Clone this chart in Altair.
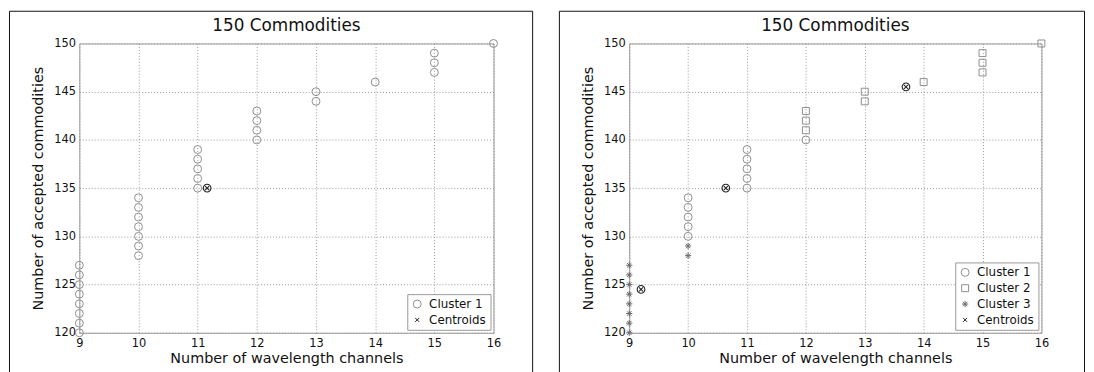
import altair as alt
import pandas as pd

FONT = "DejaVu Sans"
TITLE = "150 Commodities"
X_TITLE = "Number of wavelength channels"
Y_TITLE = "Number of accepted commodities"

# data points (same in both panels)
channels = [9, 9, 9, 9, 9, 9, 9, 9,
            10, 10, 10, 10, 10, 10, 10,
            11, 11, 11, 11, 11,
            12, 12, 12, 12,
            13, 13,
            14,
            15, 15, 15,
            16]
accepted = [120, 121, 122, 123, 124, 125, 126, 127,
            128, 129, 130, 131, 132, 133, 134,
            135, 136, 137, 138, 139,
            140, 141, 142, 143,
            144, 145,
            146,
            147, 148, 149,
            150]

# cluster membership
left_cluster = ["Cluster 1"] * 31
right_cluster = (["Cluster 3"] * 10) + (["Cluster 1"] * 11) + (["Cluster 2"] * 10)

# centroids
left_centroid_x = [11.16]
left_centroid_y = [135.0]
right_centroid_x = [10.64, 13.7, 9.2]
right_centroid_y = [135.0, 145.5, 124.5]

x_ticks = [9, 10, 11, 12, 13, 14, 15, 16]
y_ticks = [120, 125, 130, 135, 140, 145, 150]

ASTERISK = "M-1,0L1,0M0,-1L0,1M-0.7,-0.7L0.7,0.7M-0.7,0.7L0.7,-0.7"
XMARK = "M-1,-1L1,1M-1,1L1,-1"
STYLE = {
    "Cluster 1": ("circle", "#8f8f8f", 64),
    "Cluster 2": ("square", "#8f8f8f", 49),
    "Cluster 3": (ASTERISK, "#6a6a6a", 40),
    "Centroids": (XMARK, "#222222", 16),
}


def panel(groups, cx, cy, width, height, rect_x2):
    pts = pd.DataFrame({"channels": channels, "accepted": accepted, "group": groups})
    cent = pd.DataFrame({"channels": cx, "accepted": cy, "group": ["Centroids"] * len(cx)})
    domain = sorted(set(groups)) + ["Centroids"]
    shape_s = alt.Scale(domain=domain, range=[STYLE[g][0] for g in domain])
    color_s = alt.Scale(domain=domain, range=[STYLE[g][1] for g in domain])
    size_s = alt.Scale(type="ordinal", domain=domain, range=[STYLE[g][2] for g in domain])

    x = alt.X("channels:Q", scale=alt.Scale(domain=[9, 16], nice=False, zero=False),
              axis=alt.Axis(values=x_ticks, title=X_TITLE, format="d"))
    y = alt.Y("accepted:Q", scale=alt.Scale(domain=[120, 150], nice=False, zero=False),
              axis=alt.Axis(values=y_ticks, title=Y_TITLE, format="d"))

    one = pd.DataFrame({"title": [TITLE]})
    border = alt.Chart(one).mark_rect(fillOpacity=0, stroke="#111111", strokeWidth=1).encode(
        x=alt.value(-70.5), x2=alt.value(rect_x2), y=alt.value(-32.5), y2=alt.value(height + 60))
    title = alt.Chart(one).mark_text(font=FONT, fontSize=17, align="center", baseline="middle",
                                     color="#111111").encode(
        text="title:N", x=alt.value(width / 2), y=alt.value(-18))

    points = alt.Chart(pts).mark_point(filled=False, strokeWidth=1, opacity=1).encode(
        x=x, y=y,
        shape=alt.Shape("group:N", scale=shape_s, legend=alt.Legend(title=None)),
        color=alt.Color("group:N", scale=color_s, legend=alt.Legend(title=None)),
        size=alt.Size("group:N", scale=size_s, legend=alt.Legend(title=None)),
    )
    cent_circle = alt.Chart(cent).mark_point(shape="circle", filled=False, color="#222222",
                                             size=60, strokeWidth=1.1, opacity=1).encode(x=x, y=y)
    cent_x = alt.Chart(cent).mark_point(filled=False, strokeWidth=1.1, opacity=1).encode(
        x=x, y=y,
        shape=alt.Shape("group:N", scale=shape_s, legend=alt.Legend(title=None)),
        color=alt.Color("group:N", scale=color_s, legend=alt.Legend(title=None)),
        size=alt.Size("group:N", scale=size_s, legend=alt.Legend(title=None)),
    )
    return alt.layer(border, title, points, cent_circle, cent_x).properties(width=width, height=height)


left = panel(left_cluster, left_centroid_x, left_centroid_y, 418, 292, 457.5)
right = panel(right_cluster, right_centroid_x, right_centroid_y, 416, 292, 459.5)

chart = alt.hconcat(left, right, spacing=24).resolve_scale(
    shape="independent", color="independent", size="independent"
).resolve_legend(
    shape="independent", color="independent", size="independent"
).properties(padding=0, background="white").configure_view(
    stroke="#999999", strokeWidth=1
).configure_axis(
    grid=True, gridDash=[1, 2], gridColor="#999999", gridWidth=1,
    domain=False, ticks=False, tickSize=0, labelFlush=False,
    labelFont=FONT, labelFontSize=11.5, labelColor="#111111",
    titleFont=FONT, titleFontSize=14.5, titleFontWeight="normal", titleColor="#111111",
).configure_axisX(labelPadding=5, titlePadding=2).configure_axisY(
    labelPadding=4, titlePadding=8
).configure_legend(
    orient="bottom-right", offset=3, padding=4, strokeColor="#999999", fillColor="white",
    labelFont=FONT, labelFontSize=12, labelColor="#111111", labelOffset=6, rowPadding=4,
    symbolStrokeWidth=1,
)

chart.save("out.html", embed_options={"renderer": "svg", "actions": False})
